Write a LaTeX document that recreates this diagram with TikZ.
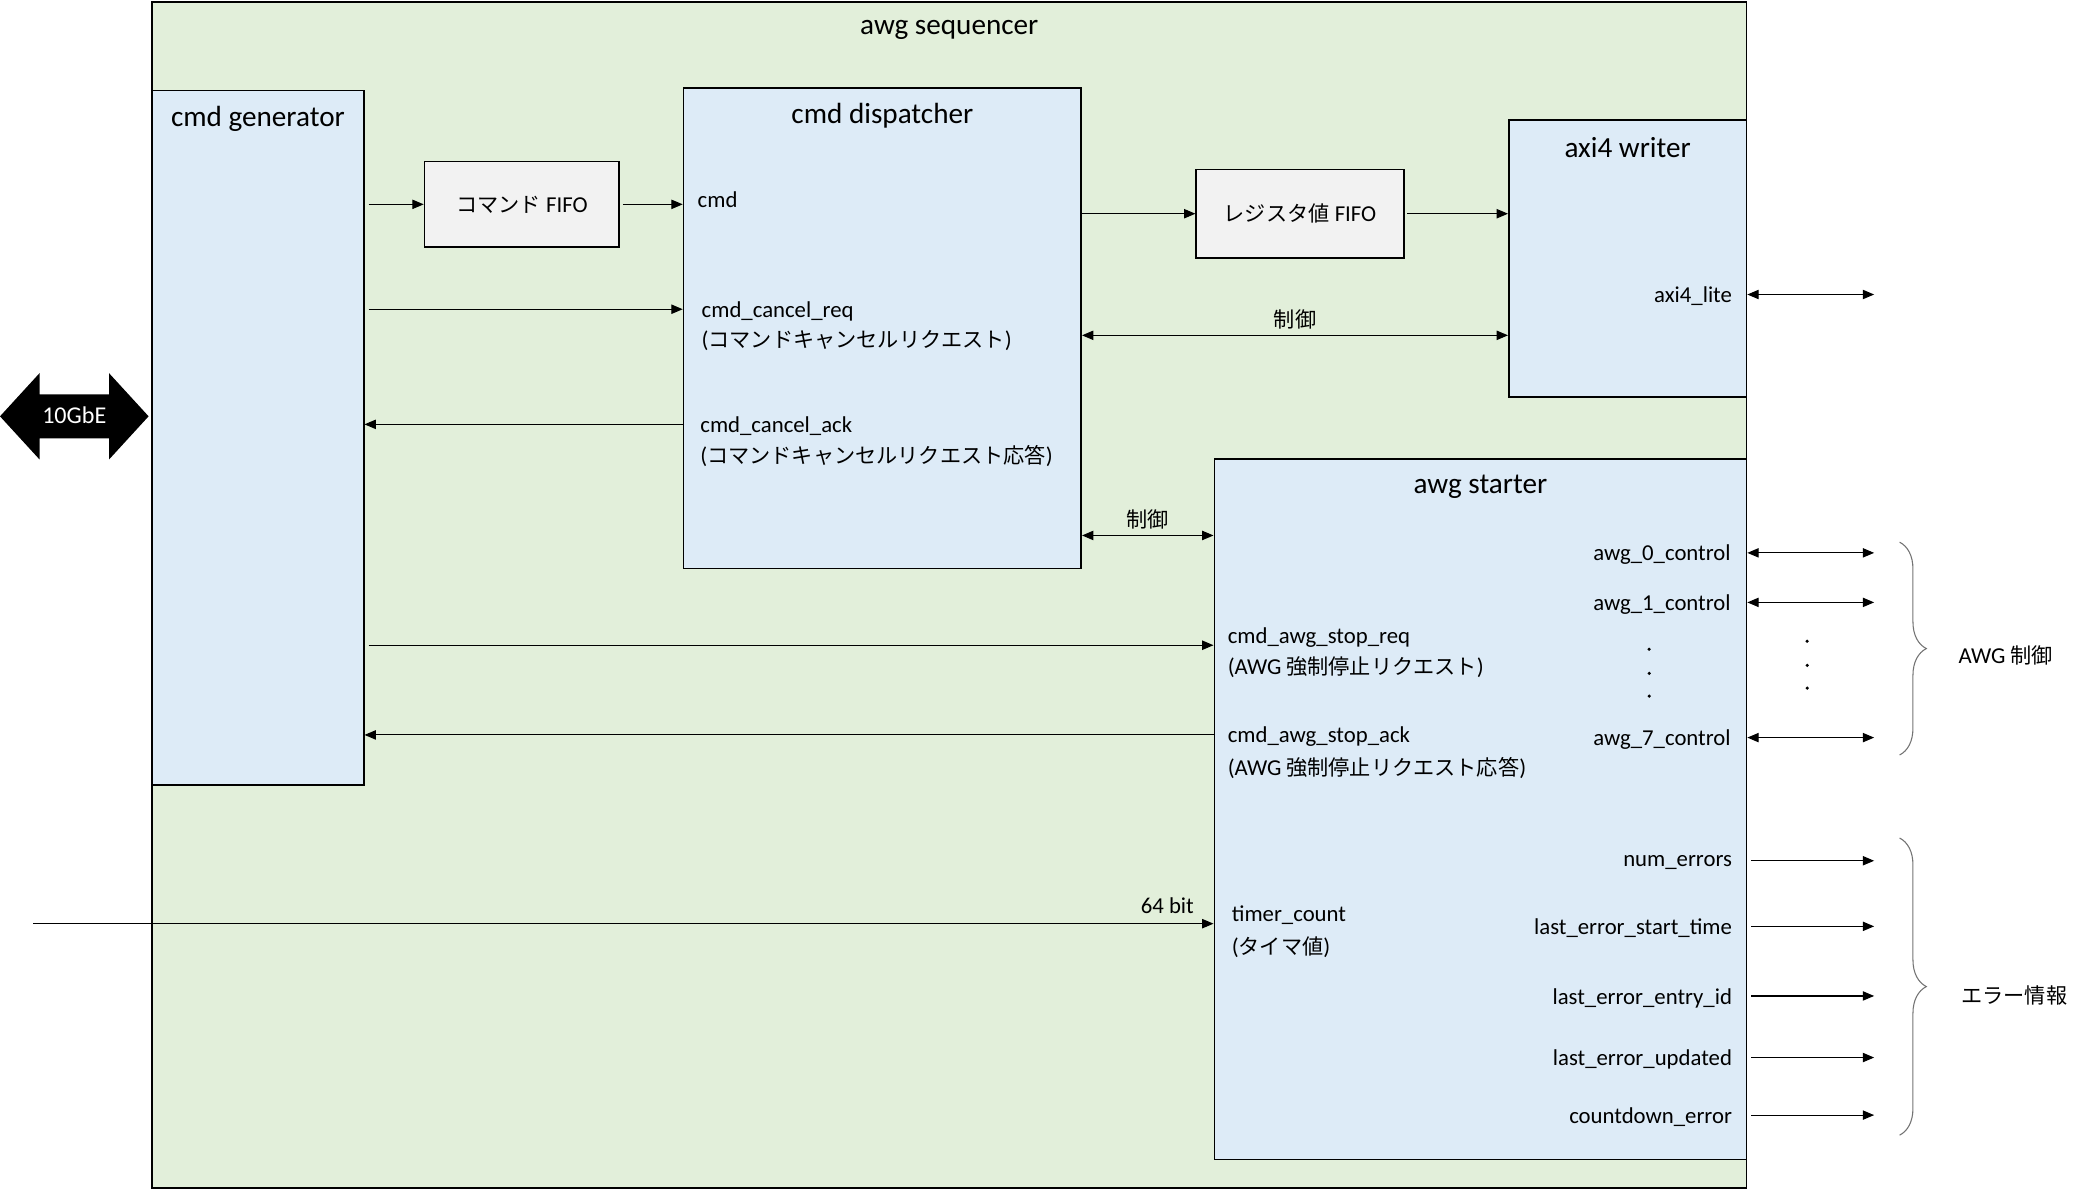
\documentclass[tikz,border=0pt]{standalone}
\usepackage{fontspec}
\setmainfont{Carlito}
\newfontfamily\jp[Scale=0.93]{Noto Sans CJK JP}
\usetikzlibrary{arrows.meta,shapes.arrows,decorations.pathreplacing,positioning}

\definecolor{seqgreen}{HTML}{E2EFDA}
\definecolor{blkblue}{HTML}{DDEBF7}
\definecolor{fifogray}{HTML}{F2F2F2}

\tikzset{
  blk/.style={draw, line width=1.3pt, fill=blkblue, anchor=north west, inner sep=0pt},
  fifo/.style={blk, fill=fifogray, font=\fontsize{17}{20}\selectfont},
  ttl/.style={font=\fontsize{21.8}{25}\selectfont, inner sep=0pt},
  port/.style={font=\fontsize{17}{22}\selectfont, inner sep=0pt, yshift=-1.5pt},
  sig/.style={line width=0.8pt, -{Triangle[length=8.5pt,width=7pt]}},
  bsig/.style={line width=0.8pt, {Triangle[length=8.5pt,width=7pt]}-{Triangle[length=8.5pt,width=7pt]}},
  grp/.style={draw=black!55, line width=0.8pt, decorate, decoration={brace, amplitude=20pt}},
}

\begin{document}
\begin{tikzpicture}[x=1pt, y=-1pt]
\useasboundingbox (0,0) rectangle (1568,888);

\node[blk, fill=seqgreen, minimum width=1191pt, minimum height=886pt] (seq) at (113,1) {};
\node[ttl] (seq-t) at ([yshift=-21.5pt]seq.north) {awg sequencer};

\node[blk, minimum width=158pt, minimum height=519pt] (gen) at (113,67) {};
\node[ttl] (gen-t) at ([yshift=-22pt]gen.north) {cmd generator};
\node[fifo, minimum width=145.5pt, minimum height=64pt] (cfifo) at (316.5,120) {{\jp コマンド} FIFO};
\node[blk, minimum width=297pt, minimum height=359pt] (disp) at (510,65) {};
\node[ttl] (disp-t) at ([yshift=-21.5pt]disp.north) {cmd dispatcher};
\node[fifo, minimum width=155pt, minimum height=66pt] (rfifo) at (893,126) {{\jp レジスタ値} FIFO};
\node[blk, minimum width=177.5pt, minimum height=207pt] (axiw) at (1126.5,89) {};
\node[ttl] (axiw-t) at ([yshift=-21.5pt]axiw.north) {axi4 writer};
\node[blk, minimum width=397.5pt, minimum height=523.5pt] (start) at (906.5,342) {};
\node[ttl] (start-t) at ([yshift=-22pt]start.north) {awg starter};

\node[double arrow, fill=black, text=white, font=\fontsize{18}{20}\selectfont,
  minimum height=111pt, inner xsep=0pt, inner ysep=10.75pt, text height=11pt, text depth=0pt,
  double arrow head extend=15.75pt, double arrow tip angle=95] (gbe) at (55.5,311) {10GbE};

\node[port, anchor=west] (cmd) at (521,148) {cmd};
\node[port, anchor=west] (req) at (524,231) {cmd\_cancel\_req};
\node[port, anchor=west] (req-j) at (524,253) {({\jp コマンドキャンセルリクエスト})};
\node[port, anchor=west] (ack) at (523,317) {cmd\_cancel\_ack};
\node[port, anchor=west] (ack-j) at (523,339) {({\jp コマンドキャンセルリクエスト応答})};
\node[port, anchor=east] (lite) at (1294,220) {axi4\_lite};
\node[port, anchor=west] (sreq) at (917,475) {cmd\_awg\_stop\_req};
\node[port, anchor=west] (sreq-j) at (917,497) {(AWG {\jp 強制停止リクエスト})};
\node[port, anchor=west] (sack) at (917,549) {cmd\_awg\_stop\_ack};
\node[port, anchor=west] (sack-j) at (917,572) {(AWG {\jp 強制停止リクエスト応答})};
\node[port, anchor=west] (timer) at (920,682) {timer\_count};
\node[port, anchor=west] (timer-j) at (920,706) {({\jp タイマ値})};
\node[port, anchor=east] (bits) at (892,675) {64 bit};

\draw[sig, shorten <=3pt] (gen.east |- cfifo) -- (cfifo.west);
\draw[sig, shorten <=2pt] (cfifo.east) -- (disp.west |- cfifo);
\draw[sig] (disp.east |- rfifo) -- (rfifo.west);
\draw[sig, shorten <=2pt] (rfifo.east) -- (axiw.west |- rfifo.east);
\draw[bsig] (disp.east |- 0,250.5) coordinate (ctl1) -- (axiw.west |- ctl1) node[midway, above=5.5pt, port] (ctl1-t) {\jp 制御};
\draw[bsig] (disp.east |- 0,400) coordinate (ctl2) -- (start.west |- ctl2) node[midway, above=5.5pt, port] (ctl2-t) {\jp 制御};
\draw[sig, shorten <=3pt] (gen.east |- 0,231) coordinate (req-p) -- (disp.west |- req-p);
\draw[sig] (disp.west |- 0,317) coordinate (ack-p) -- (gen.east |- ack-p);
\coordinate (sreq-p) at (906.5,482);
\draw[sig, shorten <=3pt] (gen.east |- sreq-p) -- (sreq-p);
\draw[sig] (start.west |- 0,549) coordinate (sack-p) -- (gen.east |- sack-p);
\coordinate (tin) at (25,690);
\draw[sig] (tin) -- (start.west |- tin);
\coordinate (lite-o) at (1400,220);
\draw[bsig] (axiw.east |- lite-o) -- (lite-o);

\foreach \k/\y in {0/413,1/450,7/551} {
  \node[port, anchor=east] (awg\k) at (1293,\y) {awg\_\k\_control};
  \coordinate (awg\k-o) at (1400,\y);
  \draw[bsig] (start.east |- awg\k-o) -- (awg\k-o);
}
\foreach \y in {485,503,520} \fill (1232,\y) circle (1.3pt);
\foreach \y in {479,497,514} \fill (1350,\y) circle (1.3pt);

\foreach \n/\t/\y in {a/num\_errors/643, b/last\_error\_start\_time/692, c/last\_error\_entry\_id/744,
  d/last\_error\_updated/790, e/countdown\_error/833} {
  \node[port, anchor=east] (err\n) at (1294,\y) {\t};
  \coordinate (err\n-o) at (1400,\y);
  \draw[sig, shorten <=3pt] (start.east |- err\n-o) -- (err\n-o);
}

\coordinate (awgtop) at (1419,405);
\coordinate (awgbot) at (1419,564);
\draw[grp] (awgtop) -- (awgbot);
\node[port, anchor=west] (awg-t) at (1463,488) {AWG {\jp 制御}};
\coordinate (errtop) at (1419,626);
\coordinate (errbot) at (1419,848);
\draw[grp] (errtop) -- (errbot);
\node[port, anchor=west] (err-t) at (1465,742) {\jp エラー情報};
\end{tikzpicture}
\end{document}
